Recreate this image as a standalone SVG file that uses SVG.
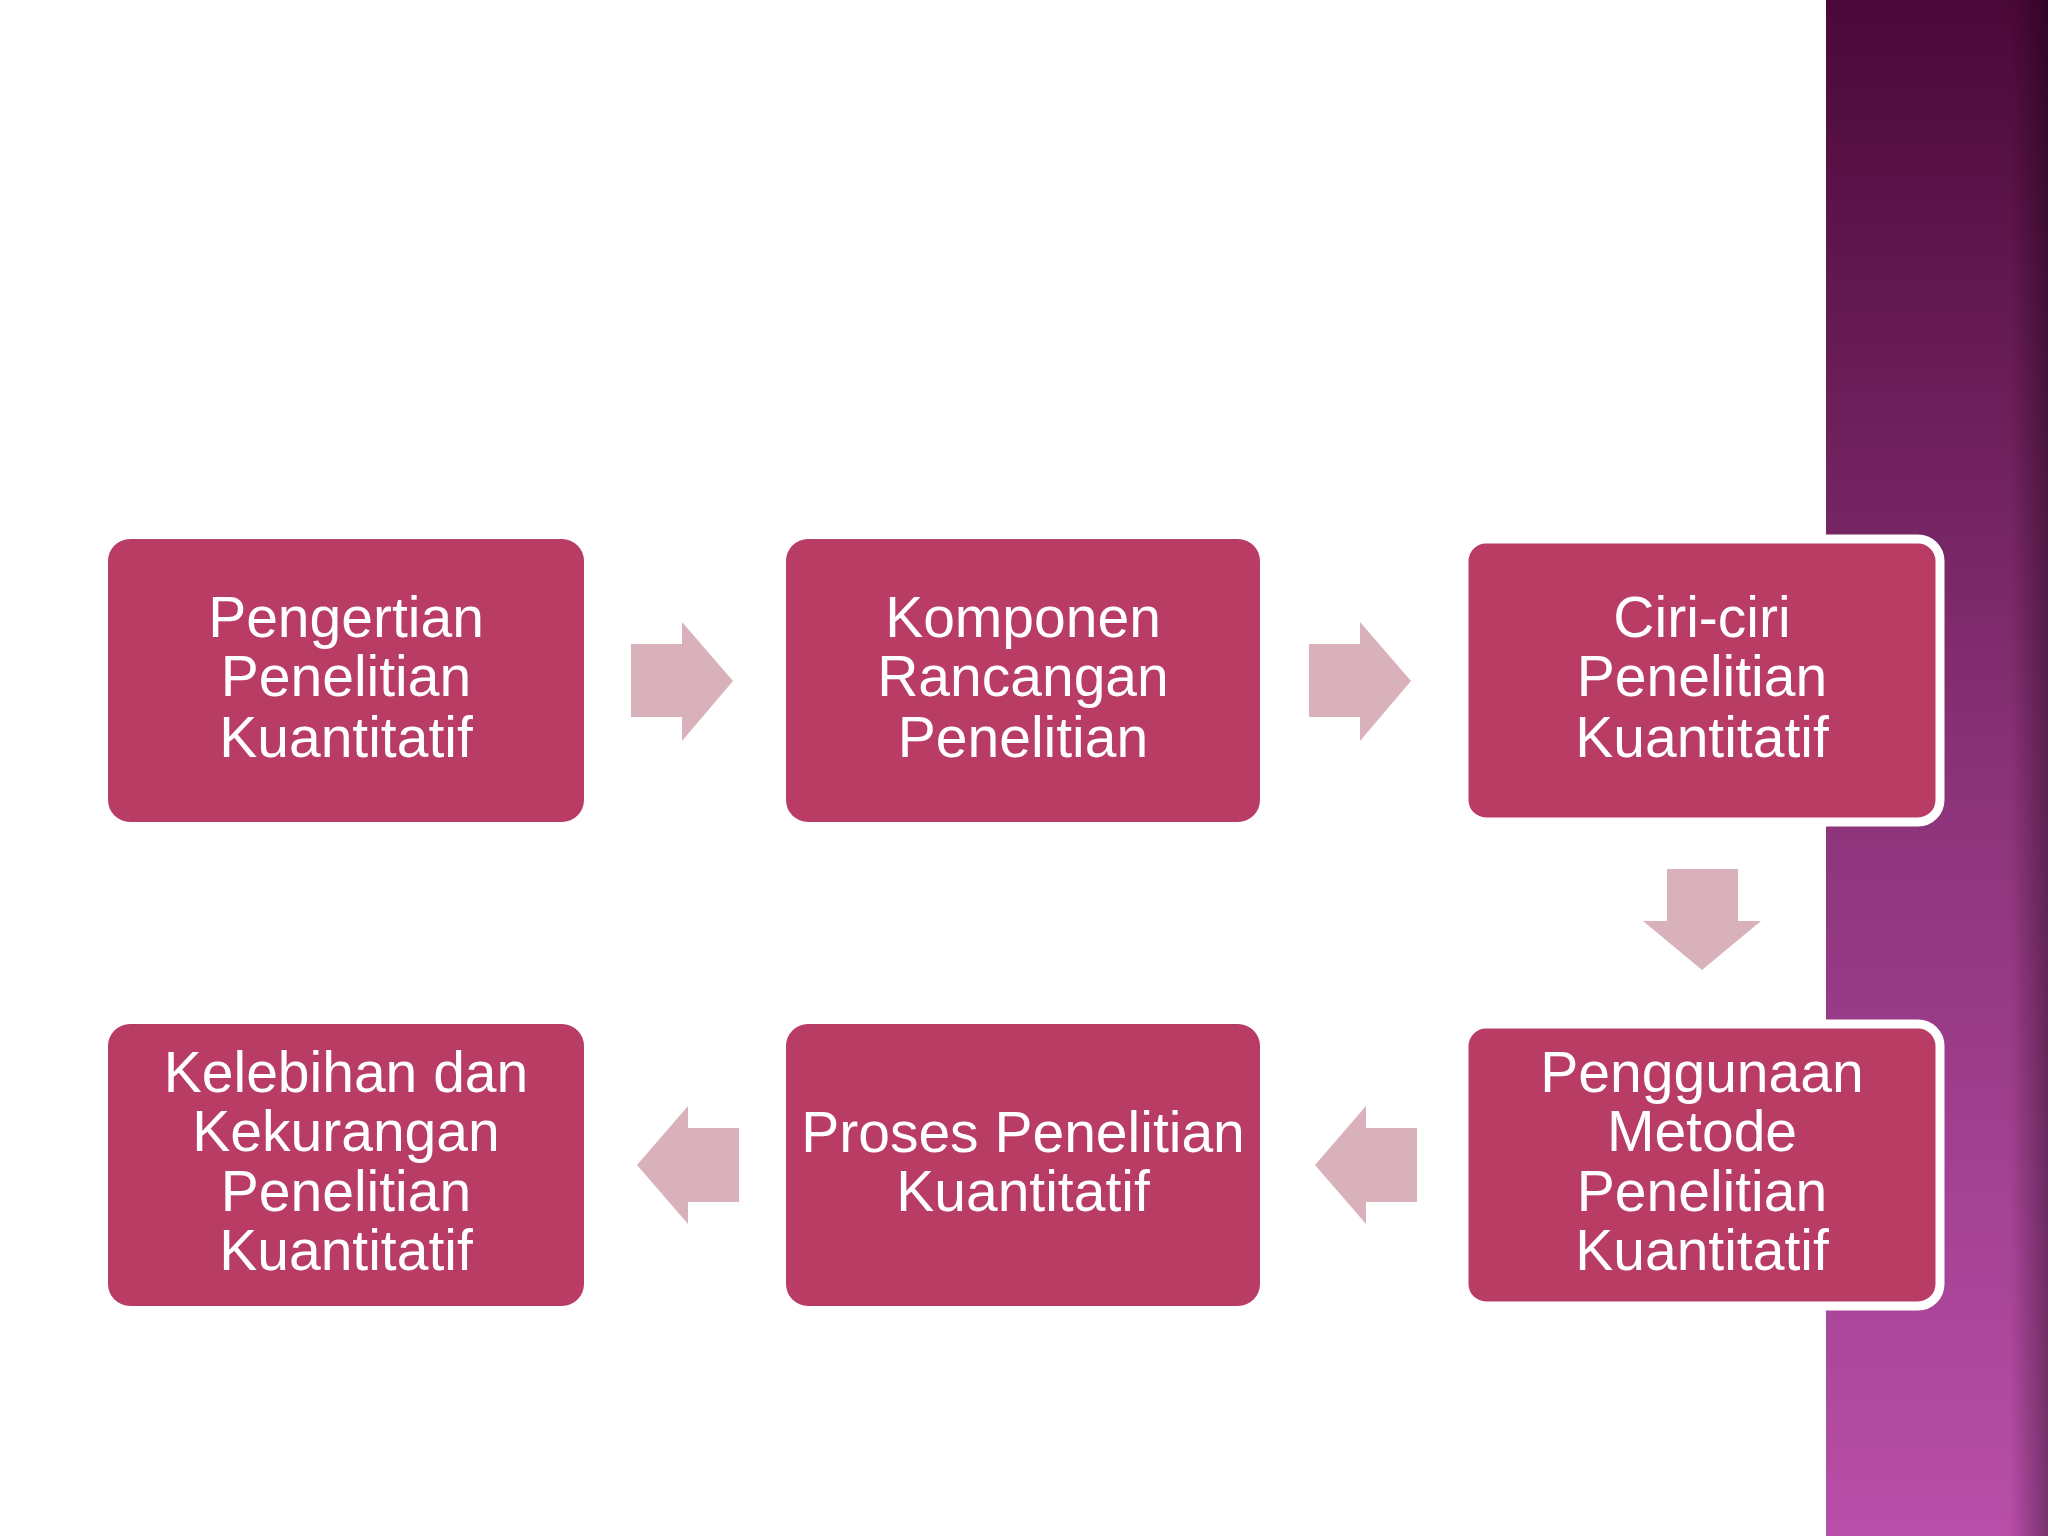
<svg xmlns="http://www.w3.org/2000/svg" width="2048" height="1536" viewBox="0 0 2048 1536">
<defs>
<linearGradient id="band" x1="0" y1="0" x2="0" y2="1">
<stop offset="0" stop-color="#4a0838"/><stop offset="0.5" stop-color="#8a3278"/><stop offset="1" stop-color="#b84ea8"/>
</linearGradient>
<linearGradient id="edge" x1="0" y1="0" x2="1" y2="0">
<stop offset="0" stop-color="#000" stop-opacity="0"/><stop offset="1" stop-color="#000" stop-opacity="0.35"/>
</linearGradient>
</defs>
<style>
.box{fill:#b83c63}
.hl{stroke:#fff;stroke-width:9}
.arr{fill:#d8b1bb}
text{font-family:"Liberation Sans",Arial,sans-serif;font-size:57px;fill:#fff;text-anchor:middle}
</style>
<rect width="2048" height="1536" fill="#fff"/>
<rect x="1826" y="0" width="222" height="1536" fill="url(#band)"/>
<rect x="2010" y="0" width="38" height="1536" fill="url(#edge)"/>
<g id="connectors">
<polygon class="arr" points="631,644 682,644 682,622 733,681 682,741 682,717 631,717"/>
<polygon class="arr" points="1309,644 1360,644 1360,622 1411,681 1360,741 1360,717 1309,717"/>
<polygon class="arr" points="1667,869 1738,869 1738,921 1761,921 1702,970 1643,921 1667,921"/>
<polygon class="arr" points="1417,1128 1366,1128 1366,1106 1315,1165 1366,1224 1366,1202 1417,1202"/>
<polygon class="arr" points="739,1128 688,1128 688,1106 637,1165 688,1224 688,1202 739,1202"/>
</g>
<g id="n1"><rect class="box" x="108" y="539" width="476" height="283" rx="22"/>
<text x="346" y="637">Pengertian</text><text x="346" y="696">Penelitian</text><text x="346" y="757">Kuantitatif</text></g>
<g id="n2"><rect class="box" x="786" y="539" width="474" height="283" rx="22"/>
<text x="1023" y="637">Komponen</text><text x="1023" y="696">Rancangan</text><text x="1023" y="757">Penelitian</text></g>
<g id="n3"><rect class="box hl" x="1464" y="539" width="476" height="283" rx="22"/>
<text x="1702" y="637">Ciri-ciri</text><text x="1702" y="696">Penelitian</text><text x="1702" y="757">Kuantitatif</text></g>
<g id="n4"><rect class="box hl" x="1464" y="1024" width="476" height="282" rx="22"/>
<text x="1702" y="1092">Penggunaan</text><text x="1702" y="1151">Metode</text><text x="1702" y="1211">Penelitian</text><text x="1702" y="1270">Kuantitatif</text></g>
<g id="n5"><rect class="box" x="786" y="1024" width="474" height="282" rx="22"/>
<text x="1023" y="1152">Proses Penelitian</text><text x="1023" y="1211">Kuantitatif</text></g>
<g id="n6"><rect class="box" x="108" y="1024" width="476" height="282" rx="22"/>
<text x="346" y="1092">Kelebihan dan</text><text x="346" y="1151">Kekurangan</text><text x="346" y="1211">Penelitian</text><text x="346" y="1270">Kuantitatif</text></g>
</svg>
